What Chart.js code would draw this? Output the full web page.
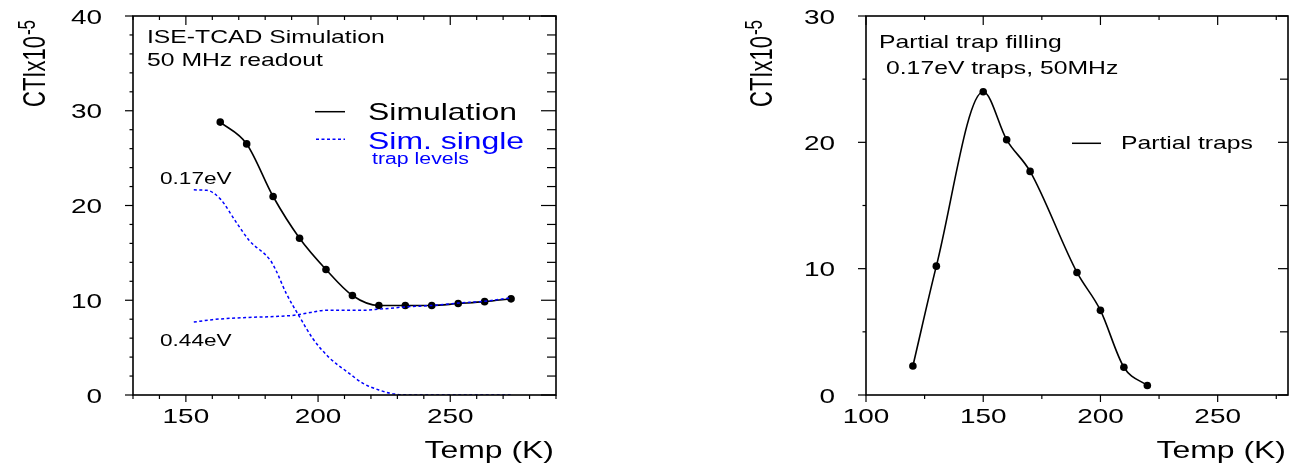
<!DOCTYPE html>
<html>
<head>
<meta charset="utf-8">
<script src="https://cdn.jsdelivr.net/npm/chart.js@4.4.1/dist/chart.umd.min.js"></script>
<style>
  html, body { margin: 0; padding: 0; background: #fff; }
  #wrap { position: relative; width: 1297px; height: 466px; overflow: hidden; }
  canvas { position: absolute; top: 0; }
  #left { left: 0; }
  #right { left: 700px; }
</style>
</head>
<body>
<div id="wrap">
  <canvas id="left" width="600" height="466"></canvas>
  <canvas id="right" width="597" height="466"></canvas>
</div>
<script>
// left panel: full simulation vs single trap levels
const simTemp = [163, 173, 183, 193, 203, 213, 223, 233, 243, 253, 263, 273];
const simCTI = [28.8, 26.5, 20.95, 16.55, 13.25, 10.5, 9.45, 9.45, 9.45, 9.65, 9.85, 10.15];

const trap017Temp = [153, 158, 163, 169, 174, 182, 184, 188, 193, 198, 204, 211, 217, 223, 229, 236, 250, 273];
const trap017CTI = [21.65, 21.6, 20.7, 18.25, 16.3, 14.2, 13.2, 10.7, 8.25, 5.96, 4.0, 2.45, 1.23, 0.53, 0.1, 0, 0, 0];

const trap044Temp = [153, 160, 167, 175, 185, 192, 197, 203, 210, 217, 225, 233, 243, 253, 263, 273];
const trap044CTI = [7.7, 7.95, 8.1, 8.2, 8.3, 8.45, 8.7, 8.95, 8.95, 8.95, 9.1, 9.3, 9.45, 9.7, 9.9, 10.25];

const leftXTicks = [150, 200, 250];
const leftYTicks = [0, 10, 20, 30, 40];

// right panel: partial trap filling
const partialTemp = [120, 130, 150, 160, 170, 190, 200, 210, 220];
const partialCTI = [2.3, 10.2, 24.0, 20.2, 17.7, 9.7, 6.7, 2.2, 0.75];

const rightXTicks = [100, 150, 200, 250];
const rightYTicks = [0, 10, 20, 30];

const FONT = '"Liberation Sans", Arial, Helvetica, sans-serif';
const SX = 1.33; // the source figure is stretched horizontally

function text(ctx, s, x, y, size, color, align) {
    ctx.save();
    ctx.font = size + 'px ' + FONT;
    ctx.fillStyle = color || '#000';
    ctx.textAlign = align || 'left';
    ctx.textBaseline = 'alphabetic';
    ctx.translate(x, y);
    ctx.scale(SX, 1);
    ctx.fillText(s, 0, 0);
    ctx.restore();
}

function line(ctx, x1, y1, x2, y2) {
    ctx.beginPath();
    ctx.moveTo(x1, y1);
    ctx.lineTo(x2, y2);
    ctx.stroke();
}

// rotated "CTIx10^-5"; glyph height is stretched like the rest of the figure
function yTitle(ctx, x, y) {
    ctx.save();
    ctx.translate(x, y);
    ctx.rotate(-Math.PI / 2);
    ctx.scale(1, 1.4);
    ctx.fillStyle = '#000';
    ctx.textBaseline = 'alphabetic';
    ctx.font = '22px ' + FONT;
    ctx.fillText('CTIx10', 0, 0);
    const w = ctx.measureText('CTIx10').width;
    ctx.font = '17px ' + FONT;
    ctx.fillText('-5', w + 1, -7.5);
    ctx.restore();
}

// frame, ROOT-style ticks, tick labels and annotations
const framePlugin = {
    id: 'frame',
    afterDraw(chart, args, o) {
        const { ctx, chartArea: a, scales: { x, y } } = chart;
        ctx.save();
        ctx.strokeStyle = '#000';
        ctx.lineWidth = 1.6;
        ctx.strokeRect(a.left, a.top, a.right - a.left, a.bottom - a.top);

        ctx.lineWidth = 1.2;
        for (let v = x.min; v <= x.max + 1e-6; v += o.xMinor) {
            const px = x.getPixelForValue(v);
            const major = o.xTicks.includes(v);
            line(ctx, px, a.bottom, px, a.bottom + (major ? 7 : 4));
            line(ctx, px, a.top, px, a.top + (major ? 9 : 4));
        }
        for (let v = y.min; v <= y.max + 1e-6; v += o.yMinor) {
            const py = y.getPixelForValue(v);
            const major = o.yTicks.includes(v);
            line(ctx, a.left, py, a.left - (major ? 8 : 3.5), py);
            line(ctx, a.right, py, a.right - (major ? o.rightMajor : o.rightMinor), py);
        }

        o.xTicks.forEach(v => text(ctx, String(v), x.getPixelForValue(v), 423, 21, '#000', 'center'));
        o.yTicks.forEach(v => text(ctx, String(v), a.left - 31, y.getPixelForValue(v) + 7.5, 21, '#000', 'right'));

        text(ctx, 'Temp (K)', a.right - 2, 458, 24, '#000', 'right');
        yTitle(ctx, o.titleX, 107);

        o.notes.forEach(n => text(ctx, n.t, n.x, n.y, n.size, n.color, 'left'));
        o.keys.forEach(k => {
            ctx.strokeStyle = k.color;
            ctx.lineWidth = 1.5;
            ctx.setLineDash(k.dash || []);
            line(ctx, k.x1, k.y, k.x2, k.y);
        });
        ctx.restore();
    }
};

function baseOptions(xMin, xMax, yMax, yWidth, padRight, frame) {
    return {
        responsive: false,
        devicePixelRatio: 1,
        animation: false,
        layout: { autoPadding: false, padding: { top: 16, right: padRight, bottom: 0, left: 0 } },
        plugins: { legend: { display: false }, tooltip: { enabled: false }, frame: frame },
        scales: {
            x: {
                type: 'linear', min: xMin, max: xMax,
                grid: { display: false }, border: { display: false },
                ticks: { display: false },
                afterFit: s => { s.height = 71; }
            },
            y: {
                type: 'linear', min: 0, max: yMax,
                grid: { display: false }, border: { display: false },
                ticks: { display: false },
                afterFit: s => { s.width = yWidth; }
            }
        }
    };
}

function pairs(xs, ys) {
    return xs.map((t, i) => ({ x: t, y: ys[i] }));
}

const BLUE = '#0000ff';

new Chart(document.getElementById('left'), {
    type: 'scatter',
    data: {
        datasets: [
            {
                data: pairs(trap017Temp, trap017CTI), showLine: true,
                borderColor: BLUE, borderWidth: 1.5, borderDash: [3, 2.5],
                pointRadius: 0, cubicInterpolationMode: 'monotone'
            },
            {
                data: pairs(trap044Temp, trap044CTI), showLine: true,
                borderColor: BLUE, borderWidth: 1.5, borderDash: [3, 2.5],
                pointRadius: 0, cubicInterpolationMode: 'monotone'
            },
            {
                data: pairs(simTemp, simCTI), showLine: true,
                borderColor: '#000', borderWidth: 1.6,
                pointRadius: 3.8, pointBackgroundColor: '#000', pointBorderWidth: 0,
                cubicInterpolationMode: 'monotone'
            }
        ]
    },
    options: baseOptions(130, 290, 40, 133, 44, {
        xTicks: leftXTicks, yTicks: leftYTicks, xMinor: 10, yMinor: 2,
        rightMajor: 15, rightMinor: 9, titleX: 45,
        notes: [
            { t: 'ISE-TCAD Simulation', x: 147, y: 43, size: 18.6 },
            { t: '50 MHz readout', x: 147, y: 66, size: 18.6 },
            { t: 'Simulation', x: 368, y: 120, size: 24 },
            { t: 'Sim. single', x: 368, y: 149, size: 24, color: BLUE },
            { t: 'trap levels', x: 372, y: 164, size: 16, color: BLUE },
            { t: '0.17eV', x: 160, y: 184, size: 17 },
            { t: '0.44eV', x: 160, y: 346, size: 17 }
        ],
        keys: [
            { x1: 315, x2: 345, y: 111.7, color: '#000' },
            { x1: 316, x2: 345, y: 139.3, color: BLUE, dash: [3, 2.5] }
        ]
    }),
    plugins: [framePlugin]
});

new Chart(document.getElementById('right'), {
    type: 'scatter',
    data: {
        datasets: [
            {
                data: pairs(partialTemp, partialCTI), showLine: true,
                borderColor: '#000', borderWidth: 1.6,
                pointRadius: 3.8, pointBackgroundColor: '#000', pointBorderWidth: 0,
                cubicInterpolationMode: 'monotone'
            }
        ]
    },
    options: baseOptions(100, 280, 30, 166, 9, {
        xTicks: rightXTicks, yTicks: rightYTicks, xMinor: 25, yMinor: 5,
        rightMajor: 10, rightMinor: 8, titleX: 72,
        notes: [
            { t: 'Partial trap filling', x: 179, y: 48, size: 18.6 },
            { t: '0.17eV traps, 50MHz', x: 186, y: 74, size: 18.6 },
            { t: 'Partial traps', x: 421, y: 149, size: 18.6 }
        ],
        keys: [
            { x1: 372, x2: 401, y: 143.3, color: '#000' }
        ]
    }),
    plugins: [framePlugin]
});
</script>
</body>
</html>
